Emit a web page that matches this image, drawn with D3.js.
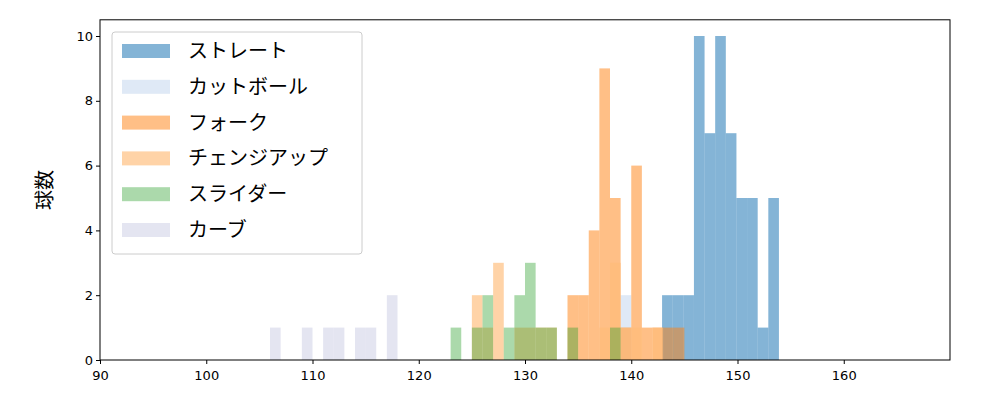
<!DOCTYPE html><html><head><meta charset="utf-8">
<script src="https://cdn.jsdelivr.net/npm/d3@7"></script>
<style>body{margin:0;background:#fff}text{font-family:"Noto Sans CJK JP","DejaVu Sans",sans-serif}</style></head><body>
<svg id="c" width="1000" height="400"></svg>
<script>
const names=["ストレート","カットボール","フォーク","チェンジアップ","スライダー","カーブ"];
const colors=["#1f77b4","#aec7e8","#ff7f0e","#ffbb78","#2ca02c","#bcbddc"];
const alphas=[0.55,0.4,0.5,0.65,0.4,0.4];
// bins: [start, count], width 1
const straight=[[142.9,2],[143.9,2],[144.9,2],[145.9,10],[146.9,7],[147.9,10],[148.9,7],[149.9,5],[150.9,5],[151.9,1],[152.9,5]];
const cutball=[[139,2]];
const fork=[[134,2],[135,2],[136,4],[137,9],[138,5],[139,1],[140,6],[141,1],[142,1],[143,1],[144,1]];
const changeup=[[125,2],[126,1],[127,3],[129,1],[130,1],[131,1],[132,1],[137,1],[138,3],[139,1],[140,1],[142,1]];
const slider=[[123,1],[125,1],[126,2],[128,1],[129,2],[130,3],[131,1],[132,1],[134,1],[138,1]];
const curve=[[106,1],[109,1],[111,1],[112,1],[114,1],[115,1],[117,2]];
const series=[straight,cutball,fork,changeup,slider,curve];
const xTicks=[90,100,110,120,130,140,150,160];
const yTicks=[0,2,4,6,8,10];
const svg=d3.select("#c");
const x=d3.scaleLinear().domain([90,170]).range([100,950]);
const y=d3.scaleLinear().domain([0,10.5]).range([360,19.8]);
series.forEach((s,i)=>{
 svg.append("g").selectAll("rect").data(s).join("rect")
  .attr("x",d=>x(d[0])).attr("width",d=>x(d[0]+1)-x(d[0]))
  .attr("y",d=>y(d[1])).attr("height",d=>y(0)-y(d[1]))
  .attr("fill",colors[i]).attr("fill-opacity",alphas[i]);
});
svg.append("rect").attr("x",100).attr("y",19.8).attr("width",850).attr("height",340.2).attr("fill","none").attr("stroke","#000").attr("stroke-width",1);
const xa=svg.append("g").attr("transform","translate(0,360)").call(d3.axisBottom(x).tickValues(xTicks).tickSize(4));
const ya=svg.append("g").attr("transform","translate(100,0)").call(d3.axisLeft(y).tickValues(yTicks).tickSize(4));
[xa,ya].forEach(a=>{a.select(".domain").remove();a.selectAll("text").attr("font-size",13).attr("fill","#000").style("font-family","DejaVu Sans");a.selectAll("line").attr("stroke","#000");});
xa.selectAll("text").attr("dy","1.0em");
svg.append("text").attr("transform","translate(52,190) rotate(-90)").attr("text-anchor","middle").attr("font-size",20).text("球数");
const lg=svg.append("g");
lg.append("rect").attr("x",112).attr("y",32).attr("width",250).attr("height",222).attr("rx",3).attr("fill","#fff").attr("fill-opacity",0.8).attr("stroke","#ccc");
names.forEach((n,i)=>{
 const yy=51+i*35.8;
 lg.append("rect").attr("x",122).attr("y",yy-7).attr("width",48).attr("height",14).attr("fill",colors[i]).attr("fill-opacity",alphas[i]);
 lg.append("text").attr("x",188).attr("y",yy+7).attr("font-size",20).text(n);
});
</script></body></html>
